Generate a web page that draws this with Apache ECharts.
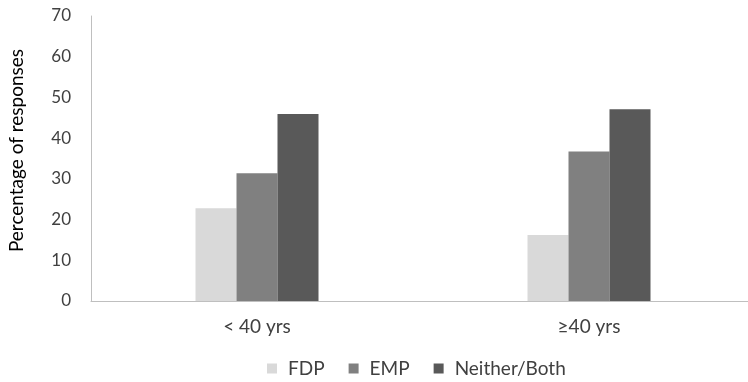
<!DOCTYPE html>
<html><head><meta charset="utf-8">
<script src="https://cdn.jsdelivr.net/npm/echarts@6/dist/echarts.min.js"></script>
<style>html,body{margin:0;padding:0;background:#fff;overflow:hidden}#c{width:760px;height:382px}</style>
</head><body><div id="c"></div>
<script>
const categories = ['< 40 yrs', '≥40 yrs'];
const seriesNames = ['FDP', 'EMP', 'Neither/Both'];
const fdp = [22.8, 16.2];
const emp = [31.4, 36.7];
const neither = [45.9, 47.1];
const yTicks = [0, 10, 20, 30, 40, 50, 60, 70];

const colors = ['#d9d9d9', '#808080', '#595959'];
const font = 'Lato, "Open Sans", sans-serif';
const chart = echarts.init(document.getElementById('c'), null, {renderer: 'canvas'});
const values = [fdp, emp, neither];
chart.setOption({
  animation: false,
  textStyle: {fontFamily: font},
  legend: {
    top: 359, left: 267, padding: 0,
    itemWidth: 10, itemHeight: 10, itemGap: 24,
    icon: 'rect',
    textStyle: {fontFamily: font, fontSize: 19, color: '#404040', padding: [0, 0, 0, 6]},
    data: seriesNames
  },
  grid: {left: 91, top: 16, width: 664, height: 285, outerBoundsMode: 'none', containLabel: false},
  xAxis: {
    type: 'category', data: categories,
    axisLine: {lineStyle: {color: '#bfbfbf', width: 1}},
    axisTick: {show: false},
    axisLabel: {fontFamily: font, fontSize: 19, color: '#404040', margin: 16}
  },
  yAxis: {
    type: 'value', min: yTicks[0], max: yTicks[yTicks.length - 1], interval: 10,
    name: 'Percentage of responses', nameLocation: 'middle', nameGap: 65,
    nameTextStyle: {fontFamily: font, fontSize: 19, color: '#000', padding: [0, 0, 0, 16]},
    axisLine: {show: true, lineStyle: {color: '#bfbfbf', width: 1}},
    axisTick: {show: false},
    splitLine: {show: false},
    axisLabel: {fontFamily: font, fontSize: 17, color: '#404040', margin: 20}
  },
  series: seriesNames.map((n, i) => ({
    name: n, type: 'bar', data: values[i],
    barWidth: 41, barGap: '0%',
    itemStyle: {color: colors[i]}
  }))
});
</script></body></html>
